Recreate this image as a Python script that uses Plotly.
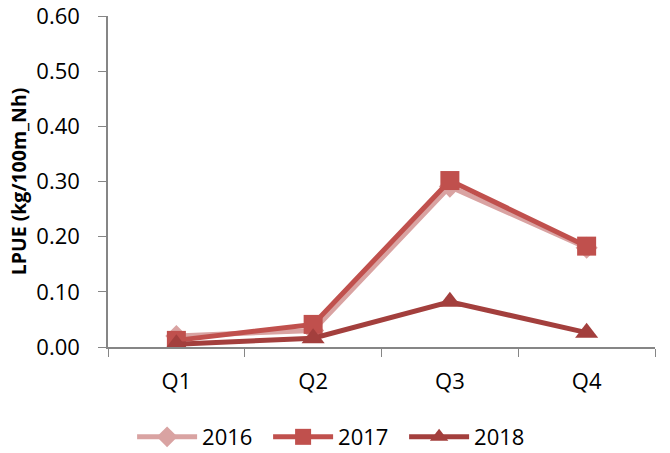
import plotly.graph_objects as go

categories = ["Q1", "Q2", "Q3", "Q4"]
s2016 = [0.020, 0.030, 0.291, 0.180]
s2017 = [0.012, 0.041, 0.302, 0.183]
s2018 = [0.005, 0.016, 0.082, 0.026]
ytickvals = [0, 0.1, 0.2, 0.3, 0.4, 0.5, 0.6]
yticktext = ["0.00", "0.10", "0.20", "0.30", "0.40", "0.50", "0.60"]

fig = go.Figure()
fig.add_trace(go.Scatter(x=categories, y=s2016, name="2016", mode="lines+markers",
                         line=dict(color="#D9A3A2", width=5),
                         marker=dict(symbol="diamond", size=17, color="#D9A3A2")))
fig.add_trace(go.Scatter(x=categories, y=s2017, name="2017", mode="lines+markers",
                         line=dict(color="#C0504D", width=5),
                         marker=dict(symbol="square", size=19, color="#C0504D")))
fig.add_trace(go.Scatter(x=categories, y=s2018, name="2018", mode="lines+markers",
                         line=dict(color="#A33F3D", width=5),
                         marker=dict(symbol="triangle-up", size=20, color="#A33F3D")))

fig.update_layout(
    width=670, height=453,
    margin=dict(l=108, r=15, t=16, b=106, autoexpand=False),
    plot_bgcolor="white", paper_bgcolor="white",
    font=dict(family="Open Sans, Liberation Sans, sans-serif", size=22, color="black"),
    showlegend=True,
    legend=dict(orientation="h", x=0.417, xanchor="center", y=-0.272, yanchor="middle",
                font=dict(size=22), itemwidth=60, entrywidth=61, entrywidthmode="pixels",
                tracegroupgap=0),
)
fig.update_xaxes(type="category", range=[-0.5, 3.5], showline=True, linecolor="#868686",
                 linewidth=1.5, ticks="outside", tickson="boundaries", ticklen=8,
                 tickcolor="#868686", showgrid=False, zeroline=False, automargin=False,
                 ticklabelstandoff=14, ticklabeloverflow="allow")
fig.update_yaxes(range=[0, 0.6005], tickvals=ytickvals, ticktext=yticktext, showline=True,
                 linecolor="#868686", linewidth=1.5, ticks="outside", ticklen=8,
                 tickcolor="#868686", showgrid=False, zeroline=False, automargin=False,
                 ticklabelstandoff=14, ticklabeloverflow="allow",
                 title=dict(text="<b>LPUE (kg/100m_Nh)</b>", font=dict(size=19.5), standoff=4))

fig.write_html("out.html", config={"displayModeBar": False},
               post_script="document.body.style.margin='0';")
